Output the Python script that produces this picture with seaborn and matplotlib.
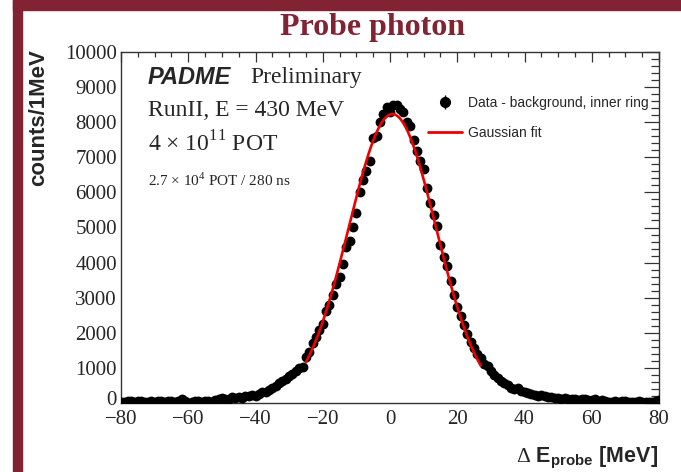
import numpy as np
import pandas as pd
import matplotlib
matplotlib.use("Agg")
import matplotlib.pyplot as plt
from matplotlib.patches import Rectangle
from matplotlib.ticker import MultipleLocator
from matplotlib.transforms import ScaledTranslation
import seaborn as sns

# ---- data ----
energy = list(range(-80, 81))
counts = [
    40, 30, 50, 60, 40, 50, 60, 40, 30, 50,          # -80..-71
    20, 50, 70, 40, 50, 60, 40, 70, 110, 60,         # -70..-61
    10, 40, 50, 60, 40, 70, 60, 30, 80, 110,         # -60..-51
    150, 120, 110, 160, 140, 170, 150, 190, 210, 230,  # -50..-41
    200, 260, 320, 300, 380, 440, 480, 560, 620, 690,  # -40..-31
    760, 840, 920, 990, 1030, 1300, 1460, 1700, 1880, 2080,  # -30..-21
    2240, 2620, 2780, 3080, 3380, 3600, 3960, 4450, 4620, 5020,  # -20..-11
    5420, 6020, 6350, 6620, 6900, 7560, 7620, 8000, 8230, 8420,  # -10..-1
    8300,                                              # 0
    8480, 8500, 8380, 8280, 8000, 7880, 7500, 7180, 6900, 6660,  # 1..10
    6130, 5710, 5370, 5040, 4510, 4160, 3910, 3470, 3090, 2730,  # 11..20
    2470, 2230, 1970, 1750, 1560, 1400, 1280, 1120, 1040, 900,   # 21..30
    800, 720, 640, 560, 500, 430, 400, 420, 330, 300,            # 31..40
    290, 270, 240, 210, 230, 200, 170, 160, 150, 140,            # 41..50
    120, 130, 110, 120, 100, 90, 110, 100, 80, 90,               # 51..60
    100, 70, 90, 60, 20, 30, 50, 40, 60, 50,                     # 61..70
    40, 30, 40, 50, 30, 40, 30, 40, 60, 80,                      # 71..80
]
fit_amplitude = 8230.0
fit_mean = 0.7
fit_sigma = 13.0
fit_range = (-25.0, 27.0)

x_ticks = [-80, -60, -40, -20, 0, 20, 40, 60, 80]
y_ticks = list(range(0, 10001, 1000))

df = pd.DataFrame({"energy": energy, "counts": counts})
xf = np.linspace(fit_range[0], fit_range[1], 300)
fit_df = pd.DataFrame({"energy": xf,
                       "fit": fit_amplitude * np.exp(-0.5 * ((xf - fit_mean) / fit_sigma) ** 2)})

# ---- figure ----
sns.set_theme(style="white")
plt.rcParams["font.family"] = ["Liberation Serif", "DejaVu Serif"]
plt.rcParams["mathtext.fontset"] = "custom"
plt.rcParams["mathtext.rm"] = "Liberation Serif"
plt.rcParams["mathtext.bf"] = "Liberation Sans:bold"

W, H = 681, 472
fig = plt.figure(figsize=(W / 100, H / 100), dpi=100)
fig.patch.set_facecolor("white")

frame_col = "#822334"
fig.patches.append(Rectangle((13 / W, 0), 9 / W, 1, transform=fig.transFigure,
                             color=frame_col, zorder=0))
fig.patches.append(Rectangle((13 / W, 1 - 10 / H), 1, 10 / H, transform=fig.transFigure,
                             color=frame_col, zorder=0))
fig.text(372 / W, 1 - 27 / H, "Probe photon", color=frame_col, fontsize=23,
         fontweight="bold", family="Liberation Serif", ha="center", va="center")

ax_l, ax_r, ax_t, ax_b = 121, 659, 52, 403
ax = fig.add_axes([ax_l / W, 1 - ax_b / H, (ax_r - ax_l) / W, (ax_b - ax_t) / H])
ax.set_facecolor("white")

ax.errorbar(df["energy"], df["counts"], yerr=np.sqrt(df["counts"]), fmt="none",
            ecolor="black", elinewidth=0.8, zorder=2)
sns.scatterplot(data=df, x="energy", y="counts", ax=ax, color="black", s=50,
                edgecolor="black", linewidth=0, zorder=3, legend=False)
sns.lineplot(data=fit_df, x="energy", y="fit", ax=ax, color="#ee0000", lw=1.9,
             zorder=4, legend=False)

ax.set_xlim(-80, 80)
ax.set_ylim(0, 10000)
ax.set_xticks(x_ticks)
ax.set_yticks(y_ticks)
ax.set_xticklabels([str(v).replace("-", "\u2212") for v in x_ticks])
ax.set_yticklabels([str(v) for v in y_ticks])
ax.xaxis.set_minor_locator(MultipleLocator(5))
ax.yaxis.set_minor_locator(MultipleLocator(200))
ax.tick_params(which="both", direction="in", top=True, right=True, color="#333333",
               labelsize=15, width=0.9)
ax.tick_params(axis="x", which="major", length=7.5, pad=5)
ax.tick_params(axis="x", which="minor", length=3.8)
ax.tick_params(axis="y", which="major", length=11, pad=3)
ax.tick_params(axis="y", which="minor", length=5.5)
for lab in ax.get_xticklabels() + ax.get_yticklabels():
    lab.set_family("Liberation Serif")
# nudge the y "0" label up a little so it does not collide with "-80"
zero_lab = ax.get_yticklabels()[0]
zero_lab.set_transform(zero_lab.get_transform() + ScaledTranslation(0, 5 / 100, fig.dpi_scale_trans))
for s in ax.spines.values():
    s.set_color("#333333")
    s.set_linewidth(1.0)
ax.set_xlabel("")
ax.set_ylabel("")

fig.text(39 / W, 1 - 118 / H, "counts/1MeV", rotation=90, fontsize=16,
         fontweight="bold", family="Liberation Sans", ha="center", va="center")
fig.text(658 / W, 1 - 462 / H, r"$\Delta$ $\mathbf{E_{probe}}$ [MeV]", fontsize=15.5,
         fontweight="bold", family="Liberation Sans", ha="right", va="baseline")

# annotations
fig.text(148 / W, 1 - 77 / H, "PADME", fontsize=17, fontweight="bold", fontstyle="italic",
         family="Liberation Sans", va="center", ha="left")
fig.text(250 / W, 1 - 77 / H, "Preliminary", fontsize=17, family="Liberation Serif",
         va="center", ha="left")
fig.text(148 / W, 1 - 110 / H, "RunII, E = 430 MeV", fontsize=17,
         family="Liberation Serif", va="center", ha="left")
fig.text(148 / W, 1 - 144 / H, r"4 $\times$ 10$^{11}$ POT", fontsize=17,
         family="Liberation Serif", va="center", ha="left")
fig.text(148 / W, 1 - 180 / H, r"2.7 $\times$ 10$^{4}$ POT / 280 ns", fontsize=11,
         family="Liberation Serif", va="center", ha="left")

# legend
h_data = ax.errorbar([np.nan], [np.nan], yerr=[1], fmt="o", color="black",
                     markersize=7, elinewidth=1.0)
h_fit = plt.Line2D([], [], color="#ee0000", lw=2)
leg = fig.legend([h_data, h_fit], ["Data - background, inner ring", "Gaussian fit"],
                 loc="upper left", bbox_to_anchor=(428 / W, 1 - 96 / H), frameon=False,
                 prop={"family": "Liberation Sans", "size": 10}, handlelength=2.45,
                 handletextpad=0.45, labelspacing=1.15, borderpad=0, borderaxespad=0)

fig.savefig("out.png", dpi=100)
